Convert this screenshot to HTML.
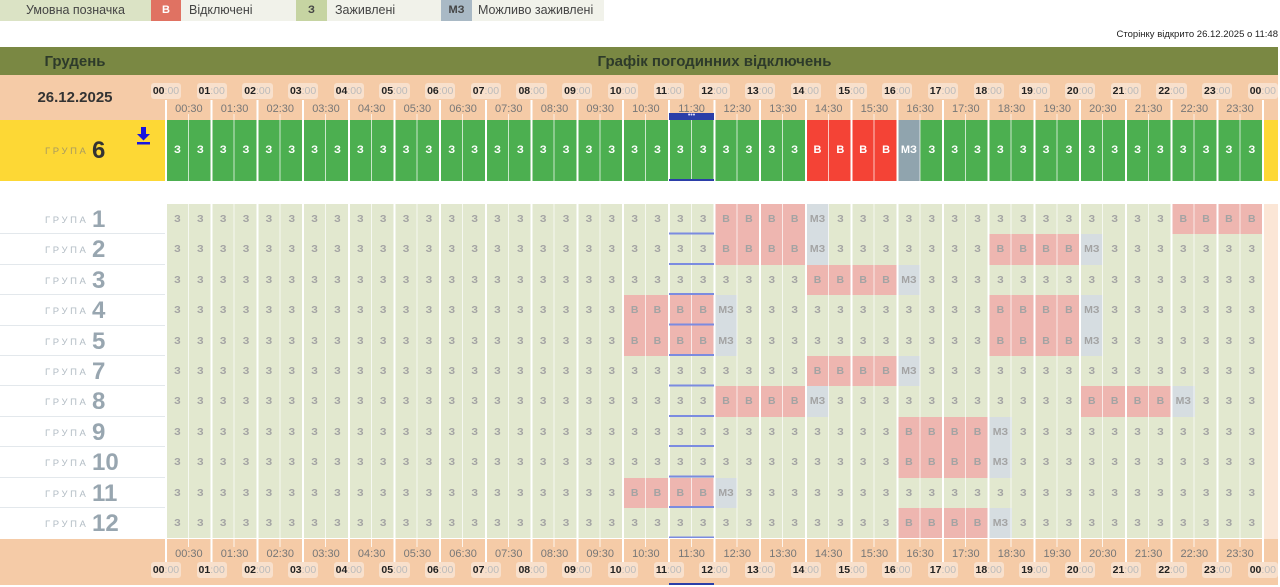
<!DOCTYPE html>
<html><head><meta charset="utf-8"><style>
*{box-sizing:border-box;margin:0;padding:0}
body{width:1280px;height:587px;background:#fff;font-family:"Liberation Sans",sans-serif;position:relative;overflow:hidden;color:#333}
.abs{position:absolute}
.leg{position:absolute;top:0;height:21px;font-size:12.5px;line-height:21px;color:#444}
.row{position:absolute;left:166px;width:1097px;display:flex}
.row i{flex:1;font-style:normal;text-align:center;font-weight:bold}
.gr i{background:#e2e8cf;color:#a3a3a3;font-size:10.5px;line-height:30.4px;height:30.4px}
.gr i.b{background:#eeb6b0}
.gr i.m{background:#d6dde1}
.g6 i{background:#4caf50;color:#fff;font-size:11px;line-height:61px;height:61px}
.g6 i.b{background:#f44336}
.g6 i.m{background:#90a4ae}
.lab{position:absolute;left:0;width:166px;height:30.4px;border-bottom:1px solid #e3e8ec}
.lab s{text-decoration:none;position:absolute;left:45px;top:11px;font-size:9.5px;letter-spacing:2.6px;color:#b2bcc4}
.lab b{position:absolute;left:92px;top:2px;font-size:24px;color:#98a6b0;font-weight:bold}
.hl{position:absolute;left:143.15px;display:flex}
.hl span{width:45.708px;text-align:center;font-size:10.5px}
.hl span em{font-style:normal;display:inline-block;background:#f8e0cc;border-radius:3px;padding:2px 2px;color:#bbb}
.hl span em b{color:#222}
.hh{position:absolute;left:166px;display:flex}
.hh span{width:45.708px;text-align:center;font-size:11px;color:#777}
</style></head><body>
<div class="leg" style="left:0;width:151px;background:#dbe3c5;text-align:center">Умовна позначка</div>
<div class="leg" style="left:151px;width:30px;background:#e07262;text-align:center;font-weight:bold;color:#fff;font-size:11px">В</div>
<div class="leg" style="left:181px;width:115px;background:#f1f2ea;padding-left:8px">Відключені</div>
<div class="leg" style="left:296px;width:31px;background:#c6d4a2;text-align:center;font-weight:bold;font-size:11px">З</div>
<div class="leg" style="left:327px;width:114px;background:#f1f2ea;padding-left:8px">Заживлені</div>
<div class="leg" style="left:441px;width:31px;background:#a9b9c5;text-align:center;font-weight:bold;font-size:11px">МЗ</div>
<div class="leg" style="left:472px;width:132px;background:#f1f2ea;padding-left:6px">Можливо заживлені</div>
<div class="abs" style="right:2px;top:29px;font-size:9.5px;color:#222">Сторінку відкрито 26.12.2025 о 11:48</div>

<div class="abs" style="left:0;top:47px;width:1278px;height:28px;background:#7a8843"></div>
<div class="abs" style="left:0;top:53px;width:150px;text-align:center;font-size:15px;font-weight:bold;color:#2d3a2a">Грудень</div>
<div class="abs" style="left:166px;top:53px;width:1097px;text-align:center;font-size:15px;font-weight:bold;color:#2d3a2a">Графік погодинних відключень</div>
<div class="abs" style="left:0;top:75px;width:1278px;height:45px;background:#f5cba7"></div>
<div class="abs" style="left:0;top:89px;width:150px;text-align:center;font-size:15px;font-weight:bold;color:#333">26.12.2025</div>

<div class="abs" style="left:0;top:120px;width:166px;height:61px;background:#fdd835"></div>
<div class="abs" style="left:1263px;top:120px;width:15px;height:61px;background:#fdd835"></div>
<div class="abs" style="left:45px;top:146px;font-size:9.5px;letter-spacing:2.6px;color:#a89a60">ГРУПА</div>
<div class="abs" style="left:92px;top:137px;font-size:24px;font-weight:bold;color:#333">6</div>
<svg class="abs" style="left:136px;top:127px" width="15" height="18"><path d="M5 0h5v7h4l-6.5 6.5L1 7h4z" fill="#1515e0"/><rect x="1" y="15" width="13" height="2.5" fill="#1515e0"/></svg>

<div class="row g6" style="top:120px"><i>З</i><i>З</i><i>З</i><i>З</i><i>З</i><i>З</i><i>З</i><i>З</i><i>З</i><i>З</i><i>З</i><i>З</i><i>З</i><i>З</i><i>З</i><i>З</i><i>З</i><i>З</i><i>З</i><i>З</i><i>З</i><i>З</i><i>З</i><i>З</i><i>З</i><i>З</i><i>З</i><i>З</i><i class=b>В</i><i class=b>В</i><i class=b>В</i><i class=b>В</i><i class=m>МЗ</i><i>З</i><i>З</i><i>З</i><i>З</i><i>З</i><i>З</i><i>З</i><i>З</i><i>З</i><i>З</i><i>З</i><i>З</i><i>З</i><i>З</i><i>З</i></div>

<div class="abs" style="left:1263px;top:204px;width:15px;height:335px;background:#fbe6d6"></div>

<div class="lab" style="top:204px"><s>ГРУПА</s><b>1</b></div>
<div class="row gr" style="top:204px"><i>З</i><i>З</i><i>З</i><i>З</i><i>З</i><i>З</i><i>З</i><i>З</i><i>З</i><i>З</i><i>З</i><i>З</i><i>З</i><i>З</i><i>З</i><i>З</i><i>З</i><i>З</i><i>З</i><i>З</i><i>З</i><i>З</i><i>З</i><i>З</i><i class=b>В</i><i class=b>В</i><i class=b>В</i><i class=b>В</i><i class=m>МЗ</i><i>З</i><i>З</i><i>З</i><i>З</i><i>З</i><i>З</i><i>З</i><i>З</i><i>З</i><i>З</i><i>З</i><i>З</i><i>З</i><i>З</i><i>З</i><i class=b>В</i><i class=b>В</i><i class=b>В</i><i class=b>В</i></div>

<div class="lab" style="top:234.4px"><s>ГРУПА</s><b>2</b></div>
<div class="row gr" style="top:234.4px"><i>З</i><i>З</i><i>З</i><i>З</i><i>З</i><i>З</i><i>З</i><i>З</i><i>З</i><i>З</i><i>З</i><i>З</i><i>З</i><i>З</i><i>З</i><i>З</i><i>З</i><i>З</i><i>З</i><i>З</i><i>З</i><i>З</i><i>З</i><i>З</i><i class=b>В</i><i class=b>В</i><i class=b>В</i><i class=b>В</i><i class=m>МЗ</i><i>З</i><i>З</i><i>З</i><i>З</i><i>З</i><i>З</i><i>З</i><i class=b>В</i><i class=b>В</i><i class=b>В</i><i class=b>В</i><i class=m>МЗ</i><i>З</i><i>З</i><i>З</i><i>З</i><i>З</i><i>З</i><i>З</i></div>

<div class="lab" style="top:264.8px"><s>ГРУПА</s><b>3</b></div>
<div class="row gr" style="top:264.8px"><i>З</i><i>З</i><i>З</i><i>З</i><i>З</i><i>З</i><i>З</i><i>З</i><i>З</i><i>З</i><i>З</i><i>З</i><i>З</i><i>З</i><i>З</i><i>З</i><i>З</i><i>З</i><i>З</i><i>З</i><i>З</i><i>З</i><i>З</i><i>З</i><i>З</i><i>З</i><i>З</i><i>З</i><i class=b>В</i><i class=b>В</i><i class=b>В</i><i class=b>В</i><i class=m>МЗ</i><i>З</i><i>З</i><i>З</i><i>З</i><i>З</i><i>З</i><i>З</i><i>З</i><i>З</i><i>З</i><i>З</i><i>З</i><i>З</i><i>З</i><i>З</i></div>

<div class="lab" style="top:295.2px"><s>ГРУПА</s><b>4</b></div>
<div class="row gr" style="top:295.2px"><i>З</i><i>З</i><i>З</i><i>З</i><i>З</i><i>З</i><i>З</i><i>З</i><i>З</i><i>З</i><i>З</i><i>З</i><i>З</i><i>З</i><i>З</i><i>З</i><i>З</i><i>З</i><i>З</i><i>З</i><i class=b>В</i><i class=b>В</i><i class=b>В</i><i class=b>В</i><i class=m>МЗ</i><i>З</i><i>З</i><i>З</i><i>З</i><i>З</i><i>З</i><i>З</i><i>З</i><i>З</i><i>З</i><i>З</i><i class=b>В</i><i class=b>В</i><i class=b>В</i><i class=b>В</i><i class=m>МЗ</i><i>З</i><i>З</i><i>З</i><i>З</i><i>З</i><i>З</i><i>З</i></div>

<div class="lab" style="top:325.6px"><s>ГРУПА</s><b>5</b></div>
<div class="row gr" style="top:325.6px"><i>З</i><i>З</i><i>З</i><i>З</i><i>З</i><i>З</i><i>З</i><i>З</i><i>З</i><i>З</i><i>З</i><i>З</i><i>З</i><i>З</i><i>З</i><i>З</i><i>З</i><i>З</i><i>З</i><i>З</i><i class=b>В</i><i class=b>В</i><i class=b>В</i><i class=b>В</i><i class=m>МЗ</i><i>З</i><i>З</i><i>З</i><i>З</i><i>З</i><i>З</i><i>З</i><i>З</i><i>З</i><i>З</i><i>З</i><i class=b>В</i><i class=b>В</i><i class=b>В</i><i class=b>В</i><i class=m>МЗ</i><i>З</i><i>З</i><i>З</i><i>З</i><i>З</i><i>З</i><i>З</i></div>

<div class="lab" style="top:356px"><s>ГРУПА</s><b>7</b></div>
<div class="row gr" style="top:356px"><i>З</i><i>З</i><i>З</i><i>З</i><i>З</i><i>З</i><i>З</i><i>З</i><i>З</i><i>З</i><i>З</i><i>З</i><i>З</i><i>З</i><i>З</i><i>З</i><i>З</i><i>З</i><i>З</i><i>З</i><i>З</i><i>З</i><i>З</i><i>З</i><i>З</i><i>З</i><i>З</i><i>З</i><i class=b>В</i><i class=b>В</i><i class=b>В</i><i class=b>В</i><i class=m>МЗ</i><i>З</i><i>З</i><i>З</i><i>З</i><i>З</i><i>З</i><i>З</i><i>З</i><i>З</i><i>З</i><i>З</i><i>З</i><i>З</i><i>З</i><i>З</i></div>

<div class="lab" style="top:386.4px"><s>ГРУПА</s><b>8</b></div>
<div class="row gr" style="top:386.4px"><i>З</i><i>З</i><i>З</i><i>З</i><i>З</i><i>З</i><i>З</i><i>З</i><i>З</i><i>З</i><i>З</i><i>З</i><i>З</i><i>З</i><i>З</i><i>З</i><i>З</i><i>З</i><i>З</i><i>З</i><i>З</i><i>З</i><i>З</i><i>З</i><i class=b>В</i><i class=b>В</i><i class=b>В</i><i class=b>В</i><i class=m>МЗ</i><i>З</i><i>З</i><i>З</i><i>З</i><i>З</i><i>З</i><i>З</i><i>З</i><i>З</i><i>З</i><i>З</i><i class=b>В</i><i class=b>В</i><i class=b>В</i><i class=b>В</i><i class=m>МЗ</i><i>З</i><i>З</i><i>З</i></div>

<div class="lab" style="top:416.8px"><s>ГРУПА</s><b>9</b></div>
<div class="row gr" style="top:416.8px"><i>З</i><i>З</i><i>З</i><i>З</i><i>З</i><i>З</i><i>З</i><i>З</i><i>З</i><i>З</i><i>З</i><i>З</i><i>З</i><i>З</i><i>З</i><i>З</i><i>З</i><i>З</i><i>З</i><i>З</i><i>З</i><i>З</i><i>З</i><i>З</i><i>З</i><i>З</i><i>З</i><i>З</i><i>З</i><i>З</i><i>З</i><i>З</i><i class=b>В</i><i class=b>В</i><i class=b>В</i><i class=b>В</i><i class=m>МЗ</i><i>З</i><i>З</i><i>З</i><i>З</i><i>З</i><i>З</i><i>З</i><i>З</i><i>З</i><i>З</i><i>З</i></div>

<div class="lab" style="top:447.2px"><s>ГРУПА</s><b>10</b></div>
<div class="row gr" style="top:447.2px"><i>З</i><i>З</i><i>З</i><i>З</i><i>З</i><i>З</i><i>З</i><i>З</i><i>З</i><i>З</i><i>З</i><i>З</i><i>З</i><i>З</i><i>З</i><i>З</i><i>З</i><i>З</i><i>З</i><i>З</i><i>З</i><i>З</i><i>З</i><i>З</i><i>З</i><i>З</i><i>З</i><i>З</i><i>З</i><i>З</i><i>З</i><i>З</i><i class=b>В</i><i class=b>В</i><i class=b>В</i><i class=b>В</i><i class=m>МЗ</i><i>З</i><i>З</i><i>З</i><i>З</i><i>З</i><i>З</i><i>З</i><i>З</i><i>З</i><i>З</i><i>З</i></div>

<div class="lab" style="top:477.6px"><s>ГРУПА</s><b>11</b></div>
<div class="row gr" style="top:477.6px"><i>З</i><i>З</i><i>З</i><i>З</i><i>З</i><i>З</i><i>З</i><i>З</i><i>З</i><i>З</i><i>З</i><i>З</i><i>З</i><i>З</i><i>З</i><i>З</i><i>З</i><i>З</i><i>З</i><i>З</i><i class=b>В</i><i class=b>В</i><i class=b>В</i><i class=b>В</i><i class=m>МЗ</i><i>З</i><i>З</i><i>З</i><i>З</i><i>З</i><i>З</i><i>З</i><i>З</i><i>З</i><i>З</i><i>З</i><i>З</i><i>З</i><i>З</i><i>З</i><i>З</i><i>З</i><i>З</i><i>З</i><i>З</i><i>З</i><i>З</i><i>З</i></div>

<div class="lab" style="top:508px;border-bottom:none"><s>ГРУПА</s><b>12</b></div>
<div class="row gr" style="top:508px"><i>З</i><i>З</i><i>З</i><i>З</i><i>З</i><i>З</i><i>З</i><i>З</i><i>З</i><i>З</i><i>З</i><i>З</i><i>З</i><i>З</i><i>З</i><i>З</i><i>З</i><i>З</i><i>З</i><i>З</i><i>З</i><i>З</i><i>З</i><i>З</i><i>З</i><i>З</i><i>З</i><i>З</i><i>З</i><i>З</i><i>З</i><i>З</i><i class=b>В</i><i class=b>В</i><i class=b>В</i><i class=b>В</i><i class=m>МЗ</i><i>З</i><i>З</i><i>З</i><i>З</i><i>З</i><i>З</i><i>З</i><i>З</i><i>З</i><i>З</i><i>З</i></div>

<div class="abs" style="left:0;top:539px;width:1278px;height:46px;background:#f5cba7"></div>

<div class="abs" style="left:165px;top:100px;width:1100px;height:439px;background:repeating-linear-gradient(90deg,#fff 0 2px,transparent 2px 45.708px)"></div>
<div class="abs" style="left:188.35px;top:114px;width:1080px;height:425px;background:repeating-linear-gradient(90deg,rgba(255,255,255,.7) 0 1px,transparent 1px 45.708px)"></div>
<div class="abs" style="left:165px;top:539px;width:1100px;height:27px;background:repeating-linear-gradient(90deg,#fff 0 2px,transparent 2px 45.708px)"></div>
<div class="abs" style="left:188.35px;top:539px;width:1080px;height:8px;background:repeating-linear-gradient(90deg,rgba(255,255,255,.8) 0 1px,transparent 1px 45.708px)"></div>
<div class="abs" style="left:0;top:181px;width:1280px;height:23px;background:#fff"></div>

<div class="abs" style="left:669px;top:113px;width:45px;height:7px;background:#2b3ea8;color:#dfe3ff;font-size:7px;line-height:6px;text-align:center">•••</div>
<div class="abs" style="left:669px;top:179px;width:45px;height:2px;background:#2b3ea8"></div>
<div class="abs" style="left:669px;top:204px;width:45px;height:334px;background:repeating-linear-gradient(180deg,transparent 0 28.4px,#7b8be0 28.4px 30.4px)"></div>
<div class="abs" style="left:669px;top:583px;width:45px;height:2px;background:#2b3ea8"></div>

<div class="hl" style="top:83px"><span><em><b>00</b>:00</em></span><span><em><b>01</b>:00</em></span><span><em><b>02</b>:00</em></span><span><em><b>03</b>:00</em></span><span><em><b>04</b>:00</em></span><span><em><b>05</b>:00</em></span><span><em><b>06</b>:00</em></span><span><em><b>07</b>:00</em></span><span><em><b>08</b>:00</em></span><span><em><b>09</b>:00</em></span><span><em><b>10</b>:00</em></span><span><em><b>11</b>:00</em></span><span><em><b>12</b>:00</em></span><span><em><b>13</b>:00</em></span><span><em><b>14</b>:00</em></span><span><em><b>15</b>:00</em></span><span><em><b>16</b>:00</em></span><span><em><b>17</b>:00</em></span><span><em><b>18</b>:00</em></span><span><em><b>19</b>:00</em></span><span><em><b>20</b>:00</em></span><span><em><b>21</b>:00</em></span><span><em><b>22</b>:00</em></span><span><em><b>23</b>:00</em></span><span><em><b>00</b>:00</em></span></div>
<div class="hh" style="top:103px"><span>00:30</span><span>01:30</span><span>02:30</span><span>03:30</span><span>04:30</span><span>05:30</span><span>06:30</span><span>07:30</span><span>08:30</span><span>09:30</span><span>10:30</span><span>11:30</span><span>12:30</span><span>13:30</span><span>14:30</span><span>15:30</span><span>16:30</span><span>17:30</span><span>18:30</span><span>19:30</span><span>20:30</span><span>21:30</span><span>22:30</span><span>23:30</span></div>
<div class="hh" style="top:548px"><span>00:30</span><span>01:30</span><span>02:30</span><span>03:30</span><span>04:30</span><span>05:30</span><span>06:30</span><span>07:30</span><span>08:30</span><span>09:30</span><span>10:30</span><span>11:30</span><span>12:30</span><span>13:30</span><span>14:30</span><span>15:30</span><span>16:30</span><span>17:30</span><span>18:30</span><span>19:30</span><span>20:30</span><span>21:30</span><span>22:30</span><span>23:30</span></div>
<div class="hl" style="top:562px"><span><em><b>00</b>:00</em></span><span><em><b>01</b>:00</em></span><span><em><b>02</b>:00</em></span><span><em><b>03</b>:00</em></span><span><em><b>04</b>:00</em></span><span><em><b>05</b>:00</em></span><span><em><b>06</b>:00</em></span><span><em><b>07</b>:00</em></span><span><em><b>08</b>:00</em></span><span><em><b>09</b>:00</em></span><span><em><b>10</b>:00</em></span><span><em><b>11</b>:00</em></span><span><em><b>12</b>:00</em></span><span><em><b>13</b>:00</em></span><span><em><b>14</b>:00</em></span><span><em><b>15</b>:00</em></span><span><em><b>16</b>:00</em></span><span><em><b>17</b>:00</em></span><span><em><b>18</b>:00</em></span><span><em><b>19</b>:00</em></span><span><em><b>20</b>:00</em></span><span><em><b>21</b>:00</em></span><span><em><b>22</b>:00</em></span><span><em><b>23</b>:00</em></span><span><em><b>00</b>:00</em></span></div>
</body></html>
